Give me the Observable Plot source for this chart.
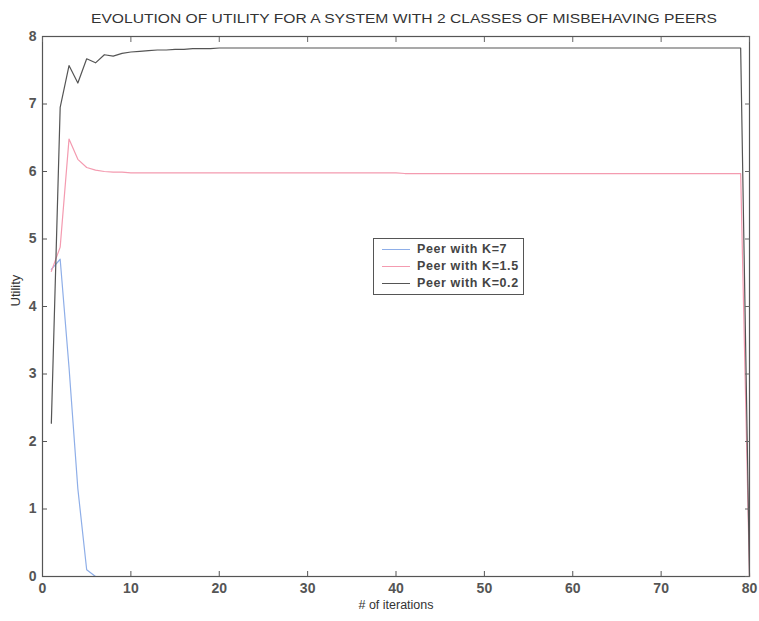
<!DOCTYPE html>
<html>
<head>
<meta charset="utf-8">
<script src="https://cdn.jsdelivr.net/npm/d3@7"></script>
<script src="https://cdn.jsdelivr.net/npm/@observablehq/plot@0.6"></script>
<style>
  body { margin: 0; background: #fff; }
  #chart { position: relative; width: 759px; height: 621px; }
  .legend {
    position: absolute; left: 373px; top: 238px; width: 151px; height: 57px;
    border: 1px solid #555; background: #fff; box-sizing: border-box;
    font-family: Arial, "Liberation Sans", sans-serif; font-weight: bold;
    font-size: 12.5px; color: #444; letter-spacing: 0.6px;
  }
  .legend .row { position: absolute; left: 0; height: 16px; line-height: 16px; white-space: nowrap; }
  .legend .swatch { position: absolute; left: 8px; top: 8px; width: 28px; height: 0; border-top: 1.3px solid; }
  .legend .label { position: absolute; left: 43px; top: 0; }
</style>
</head>
<body>
<div id="chart"></div>
<script>
// Utility of each peer class per iteration (iterations 1..80)
const utilK7 = [
  4.55, 4.70, 3.10, 1.30, 0.10, 0.00, 0.00, 0.00, 0.00, 0.00,
  0.00, 0.00, 0.00, 0.00, 0.00, 0.00, 0.00, 0.00, 0.00, 0.00,
  0.00, 0.00, 0.00, 0.00, 0.00, 0.00, 0.00, 0.00, 0.00, 0.00,
  0.00, 0.00, 0.00, 0.00, 0.00, 0.00, 0.00, 0.00, 0.00, 0.00,
  0.00, 0.00, 0.00, 0.00, 0.00, 0.00, 0.00, 0.00, 0.00, 0.00,
  0.00, 0.00, 0.00, 0.00, 0.00, 0.00, 0.00, 0.00, 0.00, 0.00,
  0.00, 0.00, 0.00, 0.00, 0.00, 0.00, 0.00, 0.00, 0.00, 0.00,
  0.00, 0.00, 0.00, 0.00, 0.00, 0.00, 0.00, 0.00, 0.00, 0.00
];
const utilK15 = [
  4.52, 4.88, 6.48, 6.18, 6.06, 6.02, 6.00, 5.99, 5.99, 5.98,
  5.98, 5.98, 5.98, 5.98, 5.98, 5.98, 5.98, 5.98, 5.98, 5.98,
  5.98, 5.98, 5.98, 5.98, 5.98, 5.98, 5.98, 5.98, 5.98, 5.98,
  5.98, 5.98, 5.98, 5.98, 5.98, 5.98, 5.98, 5.98, 5.98, 5.98,
  5.97, 5.97, 5.97, 5.97, 5.97, 5.97, 5.97, 5.97, 5.97, 5.97,
  5.97, 5.97, 5.97, 5.97, 5.97, 5.97, 5.97, 5.97, 5.97, 5.97,
  5.97, 5.97, 5.97, 5.97, 5.97, 5.97, 5.97, 5.97, 5.97, 5.97,
  5.97, 5.97, 5.97, 5.97, 5.97, 5.97, 5.97, 5.97, 5.97, 0.00
];
const utilK02 = [
  2.27, 6.95, 7.57, 7.31, 7.67, 7.61, 7.73, 7.71, 7.75, 7.77,
  7.78, 7.79, 7.80, 7.80, 7.81, 7.81, 7.82, 7.82, 7.82, 7.83,
  7.83, 7.83, 7.83, 7.83, 7.83, 7.83, 7.83, 7.83, 7.83, 7.83,
  7.83, 7.83, 7.83, 7.83, 7.83, 7.83, 7.83, 7.83, 7.83, 7.83,
  7.83, 7.83, 7.83, 7.83, 7.83, 7.83, 7.83, 7.83, 7.83, 7.83,
  7.83, 7.83, 7.83, 7.83, 7.83, 7.83, 7.83, 7.83, 7.83, 7.83,
  7.83, 7.83, 7.83, 7.83, 7.83, 7.83, 7.83, 7.83, 7.83, 7.83,
  7.83, 7.83, 7.83, 7.83, 7.83, 7.83, 7.83, 7.83, 7.83, 0.00
];

const seriesNames = ["Peer with K=7", "Peer with K=1.5", "Peer with K=0.2"];
const seriesColors = ["#8eaee8", "#f49bb0", "#555555"];
const xTicks = [0, 10, 20, 30, 40, 50, 60, 70, 80];
const yTicks = [0, 1, 2, 3, 4, 5, 6, 7, 8];
const titleText = "EVOLUTION OF UTILITY FOR A SYSTEM WITH 2 CLASSES OF MISBEHAVING PEERS";
const xLabelText = "# of iterations";
const yLabelText = "Utility";

const toRows = values => values.map((v, i) => ({iter: i + 1, utility: v}));
const allSeries = [utilK7, utilK15, utilK02];

const font = 'Arial, "Liberation Sans", sans-serif';
const intFormat = d3.format("d");

const plot = Plot.plot({
  width: 759,
  height: 621,
  marginLeft: 42,
  marginRight: 10,
  marginTop: 36,
  marginBottom: 45,
  style: {fontFamily: font, background: "#fff", color: "#444"},
  x: {domain: [0, 80], label: null},
  y: {domain: [0, 8], label: null},
  marks: [
    ...allSeries.map((vals, k) =>
      Plot.line(toRows(vals), {x: "iter", y: "utility", stroke: seriesColors[k], strokeWidth: 1.2})
    ),
    Plot.frame({stroke: "#555", strokeWidth: 1.2}),
    Plot.axisX(xTicks, {anchor: "bottom", tickSize: -5, tickPadding: 12, tickFormat: intFormat, fontSize: 14, fontWeight: "bold", color: "#555", label: null}),
    Plot.axisX(xTicks, {anchor: "top", tickSize: -5, tickFormat: () => "", color: "#666", label: null}),
    Plot.axisY(yTicks, {anchor: "left", tickSize: -5, tickPadding: 11, tickFormat: intFormat, fontSize: 14, fontWeight: "bold", color: "#555", label: null}),
    Plot.axisY(yTicks, {anchor: "right", tickSize: -5, tickFormat: () => "", color: "#666", label: null}),
    Plot.text([titleText], {text: d => d, frameAnchor: "top", dx: 8, dy: -22, fontSize: 12.5, fill: "#333"}),
    Plot.text([xLabelText], {text: d => d, frameAnchor: "bottom", dy: 32, fontSize: 12.5, fill: "#333"}),
    Plot.text([yLabelText], {text: d => d, frameAnchor: "left", rotate: -90, dx: -27, dy: 0, fontSize: 13, fill: "#333"})
  ]
});

// stretch the title to its full printed width
d3.select(plot).selectAll("text").filter(function () { return this.textContent === titleText; })
  .attr("textLength", 626).attr("lengthAdjust", "spacingAndGlyphs");

const chart = document.getElementById("chart");
chart.appendChild(plot);

// legend box
const legend = document.createElement("div");
legend.className = "legend";
seriesNames.forEach((name, k) => {
  const row = document.createElement("div");
  row.className = "row";
  row.style.top = (2 + k * 17) + "px";
  const sw = document.createElement("span");
  sw.className = "swatch";
  sw.style.borderTopColor = seriesColors[k];
  const lb = document.createElement("span");
  lb.className = "label";
  lb.textContent = name;
  row.appendChild(sw);
  row.appendChild(lb);
  legend.appendChild(row);
});
chart.appendChild(legend);
</script>
</body>
</html>
